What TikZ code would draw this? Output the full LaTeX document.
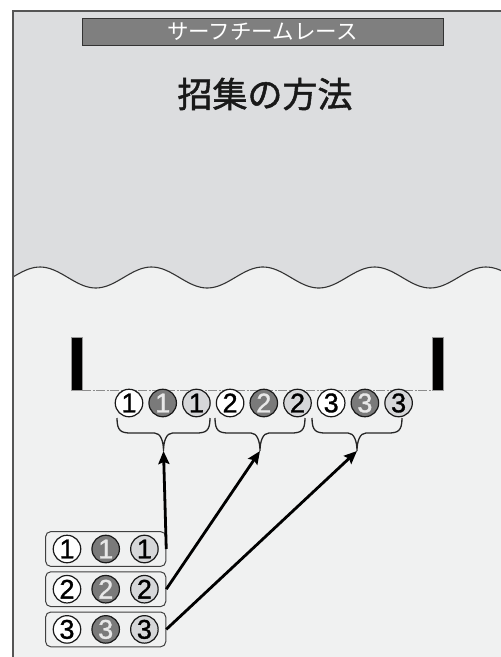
\documentclass[tikz,border=0pt]{standalone}
\usepackage{fontspec}
\setmainfont{Liberation Sans}
\newfontfamily\jpfont{Noto Sans CJK JP}
\newfontfamily\jphead[FakeBold=1.5]{Noto Sans CJK JP}
\newfontfamily\chipfont[FakeBold=1.2]{Liberation Sans}
\usepackage{xcolor}
\usetikzlibrary{arrows.meta, positioning, fit}
\definecolor{skygray}{HTML}{DCDDDF}
\definecolor{seagray}{HTML}{F0F1F1}
\definecolor{framegray}{HTML}{555555}
\definecolor{bannergray}{HTML}{7F7F7F}
\definecolor{chipdark}{HTML}{7A7A7A}
\definecolor{chiplight}{HTML}{D6D7D9}
\definecolor{chiptext}{HTML}{E8E8E8}

% brace under one team: left x, right x, name of its tip
\newcommand{\teambrace}[3]{%
  \pgfmathsetmacro{\bmid}{(#1+#2)/2}
  \draw[brc] (#1,418) .. controls (#1,431) and (#1+4,433) .. (#1+14,433)
    -- (\bmid-9,433) .. controls (\bmid-3,433) and (\bmid,441) .. (\bmid,451)
    coordinate (#3)
    .. controls (\bmid,441) and (\bmid+3,433) .. (\bmid+9,433)
    -- (#2-14,433) .. controls (#2-4,433) and (#2,431) .. (#2,418);}

\begin{document}
\begin{tikzpicture}[
      x=1pt, y=-1pt,
      num/.style={circle, draw=black!90, line width=1.2pt, minimum size=27.5pt,
                  inner sep=0pt, font=\chipfont\fontsize{27}{27}\selectfont},
      numw/.style={num, fill=white},
      numd/.style={num, fill=chipdark, text=chiptext},
      numl/.style={num, fill=chiplight},
      teambox/.style={draw=black!75, line width=1pt, rounded corners=5pt,
                      inner xsep=7pt, inner ysep=3pt},
      post/.style={fill=black, draw=black!40, line width=0.5pt,
                   minimum width=11pt, minimum height=53pt, inner sep=0pt},
      brc/.style={line width=1.3pt, black!85},
      arr/.style={-{Stealth[length=13pt, width=11pt, inset=2pt]},
                  line width=2.8pt, black},
    ]
    \useasboundingbox (0,0) rectangle (501,657);
    \clip (0,0) rectangle (501,657);

    % Sky and sea
    \fill[seagray] (13,11) rectangle (505,660);
    \fill[skygray] (13,11) -- plot[domain=13:501, samples=160]
      (\x, {277.5 - 10.5*cos(3.2287*(\x-40))}) -- (501,11) -- cycle;
    \draw[line width=1.1pt, black!80] plot[domain=13:501, samples=160]
      (\x, {277.5 - 10.5*cos(3.2287*(\x-40))});
    \draw[framegray, line width=1.5pt] (13,660) -- (13,11) -- (505,11);

    % Titles
    \node[fill=bannergray, draw=black!80, line width=1pt,
          minimum width=361pt, minimum height=27pt, inner sep=0pt,
          text=white, font=\jpfont\fontsize{21.5}{21.5}\selectfont]
      (banner) at (262.5,31.5) {サーフチームレース};
    \node[font=\jphead\fontsize{35}{35}\selectfont, text=black!90]
      (heading) at (265,94) {招集の方法};

    % Start line
    \node[post] (lpost) at (76.5,363.5) {};
    \node[post] (rpost) at (437.5,363.5) {};
    \draw[black!45, line width=1pt, dash pattern=on 9pt off 1.5pt on 2pt off 1.5pt]
      (lpost.south east) -- (rpost.south west);

    % Boats lined up at the start
    \node[numw] (s11) at (129,403) {1};
    \node[numd, right=5pt of s11] (s12) {1};
    \node[numl, right=5pt of s12] (s13) {1};
    \node[numw, right=5pt of s13] (s21) {2};
    \node[numd, right=5pt of s21] (s22) {2};
    \node[numl, right=5pt of s22] (s23) {2};
    \node[numw, right=5pt of s23] (s31) {3};
    \node[numd, right=5pt of s31] (s32) {3};
    \node[numl, right=5pt of s32] (s33) {3};

    % Braces under each team
    \teambrace{117}{210}{tip1}
    \teambrace{215}{305}{tip2}
    \teambrace{312}{402}{tip3}

    % Teams waiting
    \node[numw] (b11) at (67,549) {1};
    \node[numd, right=10pt of b11] (b12) {1};
    \node[numl, right=10pt of b12] (b13) {1};
    \node[numw, below=11.5pt of b11] (b21) {2};
    \node[numd, right=10pt of b21] (b22) {2};
    \node[numl, right=10pt of b22] (b23) {2};
    \node[numw, below=11.5pt of b21] (b31) {3};
    \node[numd, right=10pt of b31] (b32) {3};
    \node[numl, right=10pt of b32] (b33) {3};
    \node[teambox, fit=(b11)(b13)] (team1) {};
    \node[teambox, fit=(b21)(b23)] (team2) {};
    \node[teambox, fit=(b31)(b33)] (team3) {};

    % Arrows to the start
    \draw[arr] (team1.east) -- (tip1);
    \draw[arr] (team2.east) -- (tip2);
    \draw[arr] (team3.east) -- (tip3);
  \end{tikzpicture}
\end{document}
